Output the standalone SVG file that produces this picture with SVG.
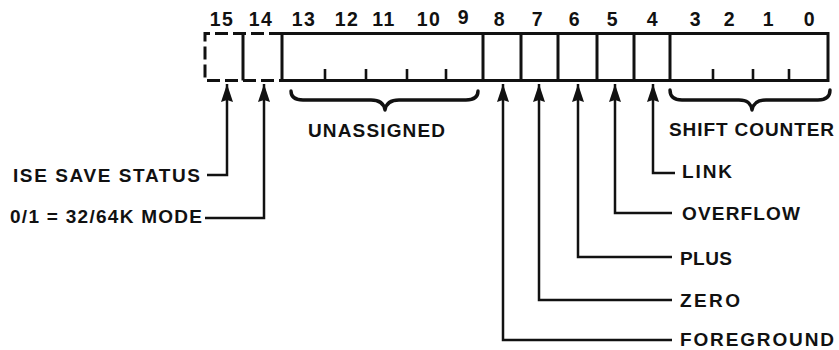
<svg xmlns="http://www.w3.org/2000/svg" width="839" height="350" viewBox="0 0 839 350">
  <style>
    .lbl { font-family: "Liberation Sans", Arial, sans-serif; font-weight: bold; font-size: 19px; fill: #111; }
    .bit { font-family: "Liberation Sans", Arial, sans-serif; font-weight: bold; font-size: 19.5px; fill: #111; text-anchor: middle; letter-spacing: 1.5px; }
    .box { fill: none; stroke: #111; stroke-width: 3; }
    .dash { fill: none; stroke: #111; stroke-width: 3; stroke-dasharray: 13 5; }
    .tick { stroke: #111; stroke-width: 2.6; }
    .brace { fill: none; stroke: #111; stroke-width: 3.4; stroke-linecap: round; stroke-linejoin: round; }
    .conn { fill: none; stroke: #111; stroke-width: 2.5; marker-start: url(#arrow); }
  </style>
  <defs>
    <marker id="arrow" markerUnits="userSpaceOnUse" viewBox="0 0 18 12" markerWidth="18" markerHeight="12" refX="18" refY="6" orient="auto-start-reverse">
      <path d="M0,0 L18,6 L0,12 L2,6 z" fill="#111"/>
    </marker>
  </defs>
  <rect width="839" height="350" fill="#fff"/>

  <!-- bit numbers -->
  <g id="bit-numbers">
    <text class="bit" x="222" y="26">15</text>
    <text class="bit" x="261" y="26">14</text>
    <text class="bit" x="304" y="26">13</text>
    <text class="bit" x="347" y="26">12</text>
    <text class="bit" x="384" y="26">11</text>
    <text class="bit" x="429" y="26">10</text>
    <text class="bit" x="464" y="24">9</text>
    <text class="bit" x="500" y="26">8</text>
    <text class="bit" x="538" y="26">7</text>
    <text class="bit" x="575" y="26">6</text>
    <text class="bit" x="613" y="26">5</text>
    <text class="bit" x="653" y="26">4</text>
    <text class="bit" x="696" y="26">3</text>
    <text class="bit" x="730" y="26">2</text>
    <text class="bit" x="769" y="26">1</text>
    <text class="bit" x="810" y="26">0</text>
  </g>

  <!-- register -->
  <g id="register">
    <path class="dash" d="M282,33.5 H205 V80.5 H282"/>
    <line class="box" x1="243" y1="33.5" x2="243" y2="80.5"/>
    <rect class="box" x="282" y="33.5" width="546" height="47"/>
    <line class="box" x1="483" y1="33.5" x2="483" y2="80.5"/>
    <line class="box" x1="521" y1="33.5" x2="521" y2="80.5"/>
    <line class="box" x1="558" y1="33.5" x2="558" y2="80.5"/>
    <line class="box" x1="597" y1="33.5" x2="597" y2="80.5"/>
    <line class="box" x1="634" y1="33.5" x2="634" y2="80.5"/>
    <line class="box" x1="670" y1="33.5" x2="670" y2="80.5"/>
    <!-- bit ticks -->
    <line class="tick" x1="325" y1="69" x2="325" y2="80"/>
    <line class="tick" x1="366" y1="69" x2="366" y2="80"/>
    <line class="tick" x1="407" y1="69" x2="407" y2="80"/>
    <line class="tick" x1="446" y1="69" x2="446" y2="80"/>
    <line class="tick" x1="713" y1="69" x2="713" y2="80"/>
    <line class="tick" x1="753" y1="69" x2="753" y2="80"/>
    <line class="tick" x1="789" y1="69" x2="789" y2="80"/>
  </g>

  <!-- field braces and names -->
  <g id="unassigned">
    <path class="brace" d="M291,91 C291,97 295,100 303,100 L371,100 C380,100 384,104 385,110 C386,104 390,100 399,100 L466,100 C474,100 478,97 478,91"/>
    <text class="lbl" x="308" y="137" textLength="137" lengthAdjust="spacing">UNASSIGNED</text>
  </g>
  <g id="shift-counter">
    <path class="brace" d="M670,90 C670,97 674,100 682,100 L739,100 C748,100 751,104 752,110 C753,104 757,100 766,100 L818,100 C826,100 830,97 830,90"/>
    <text class="lbl" x="669" y="136" textLength="165" lengthAdjust="spacing">SHIFT COUNTER</text>
  </g>

  <!-- flag labels -->
  <g id="ise-save-status">
    <text class="lbl" x="13" y="182" textLength="187" lengthAdjust="spacing">ISE SAVE STATUS</text>
  </g>
  <g id="mode">
    <text class="lbl" x="10" y="223" textLength="192" lengthAdjust="spacing">0/1 = 32/64K MODE</text>
  </g>
  <g id="link">
    <text class="lbl" x="682" y="178" textLength="50" lengthAdjust="spacing">LINK</text>
  </g>
  <g id="overflow">
    <text class="lbl" x="682" y="220" textLength="118" lengthAdjust="spacing">OVERFLOW</text>
  </g>
  <g id="plus">
    <text class="lbl" x="680" y="265" textLength="52" lengthAdjust="spacing">PLUS</text>
  </g>
  <g id="zero">
    <text class="lbl" x="680" y="307" textLength="60" lengthAdjust="spacing">ZERO</text>
  </g>
  <g id="foreground">
    <text class="lbl" x="680" y="346" textLength="154" lengthAdjust="spacing">FOREGROUND</text>
  </g>

  <!-- connectors -->
  <g id="connectors">
    <path class="conn" d="M227,84 V175 H207"/>
    <path class="conn" d="M264,84 V218 H205"/>
    <path class="conn" d="M653,84 V173 H675"/>
    <path class="conn" d="M615,84 V213 H672"/>
    <path class="conn" d="M578,84 V257 H672"/>
    <path class="conn" d="M539,84 V300 H672"/>
    <path class="conn" d="M503,84 V340 H672"/>
  </g>
</svg>
